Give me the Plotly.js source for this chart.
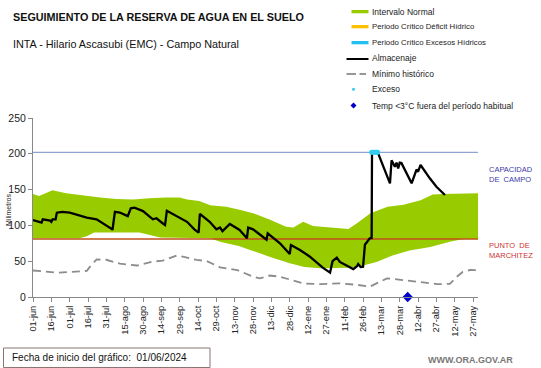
<!DOCTYPE html>
<html>
<head>
<meta charset="utf-8">
<script src="https://cdn.plot.ly/plotly-3.0.1.min.js"></script>
<style>html,body{margin:0;padding:0;background:#fff;}#chart{width:541px;height:368px;}</style>
</head>
<body>
<div id="chart"></div>
<script>
// ---- Data (x = days since 01/06/2024) ----
const ticksDias = [0,15,30,45,60,75,90,105,120,135,150,165,180,195,210,225,240,255,270,285,300,315,330,345,360];
const ticksTexto = ["01-jun","16-jun","01-jul","16-jul","31-jul","15-ago","30-ago","14-sep","29-sep","14-oct","29-oct","13-nov","28-nov","13-dic","28-dic","12-ene","27-ene","11-feb","26-feb","13-mar","28-mar","12-abr","27-abr","12-may","27-may"];

const diasSuperior = [0,5,16,27,55,68,82,95,109,120,126,136,145,158,169,180,194,207,213,221,229,248,258,265,276,290,303,317,327,335,364];
const intervaloSuperior = [144,141,149,145,139,137,136,138,139,139,136,134,128,126,122,117,108,98,97,105,99,96,95,103,117,126,129,135,143,144,145];

const diasInferior = [0,38,44,50,63,87,104,116,145,153,169,177,185,194,210,222,235,259,270,281,294,308,325,341,352,364];
const intervaloInferior = [82,82,85,90,90,90,83,82,82,77,71,66,61,56,47,42,40,41,44,49,58,65,70,77,81,81];

const diasAlmacenaje = [0,5.5,7,8,14,15,16,18.5,19.5,24,30,44,52,64.5,65,67,71,77.5,80,83,90,98,101,106,108,109.5,117.5,126,132,135.5,136.5,144.5,150,153,155,161,169,175,176,180,185,191,192,202,210,211,218,221,226,237,243,245,248.5,251,262,265,266,268,270,271.5,273,275.5,277,277.3,282,292,293.3,296,297.4,298.7,300,301.4,309.7,313.7,315,317,324.6,330,337];
const almacenaje = [107.5,105,104,108.5,106.6,105,108.5,108.5,117.8,119,117.8,111,108.5,95,93.6,119,118,113,123.8,124.7,120,108.5,110,103,100.5,120.5,113,105,94.5,90,116,105,94.5,97,92,102,93.6,82,97,94.5,88,80,89,75,60,72.6,66,63,57,41,34,50,55,49,39,43,46,42,42.3,73,76,82,82.5,202,202,158.8,191,182,187.6,179.7,187.6,187,158.8,178,175,184.4,165.8,154,142.5];

const diasMinimo = [0,19.5,30,44,46.5,52,60,71,85,98,106,117.5,122.5,134,142,153,167,180,185.5,193.5,202,210,221,235,251,265,275.5,281,289.5,302.5,316.5,330.5,341,346.5,351.5,357.5,364];
const minimoHistorico = [37,34,35,36.5,42,52.5,52,46.5,44,49.5,50.7,58,56.5,51.7,50.3,41.5,37.7,28.4,26,30,28.4,24,19,18,19,17,14.4,19,26,23.7,20.5,18,18.3,28,35,37.7,37.5];

const diasExceso = [277,278,279,280,281,282];
const exceso = [202,202,202,202,202,202];

const diasTempBaja = [306.5];
const tempBaja = [0];

const capacidadCampo = 202;
const puntoMarchitez = 81;
const diasRango = [0, 364];

// ---- helpers for pixel-like placement of decorations ----
const L = 33, R = 478, T = 118, B = 297;
const px = x => (x - L) / (R - L);
const py = y => (B - y) / (B - T);

const font = "Liberation Sans, Arial, sans-serif";

const traces = [
  { // Intervalo normal band
    x: diasSuperior.concat(diasInferior.slice().reverse()),
    y: intervaloSuperior.concat(intervaloInferior.slice().reverse()),
    type: "scatter", mode: "lines", fill: "toself", fillcolor: "#99cc00",
    line: {width: 0, color: "#99cc00"}, hoverinfo: "skip", name: "Intervalo Normal"
  },
  { x: diasRango, y: [capacidadCampo, capacidadCampo], type: "scatter", mode: "lines",
    line: {color: "#8fa3d0", width: 1.3}, name: "Capacidad de campo" },
  { x: diasRango, y: [puntoMarchitez, puntoMarchitez], type: "scatter", mode: "lines",
    line: {color: "#c0501a", width: 1.3}, name: "Punto de marchitez" },
  { x: diasMinimo, y: minimoHistorico, type: "scatter", mode: "lines",
    line: {color: "#8c8c8c", width: 1.8, dash: "8px,5px"}, name: "Mínimo histórico" },
  { x: diasAlmacenaje, y: almacenaje, type: "scatter", mode: "lines",
    line: {color: "#000000", width: 2.3}, name: "Almacenaje" },
  { x: diasExceso, y: exceso, type: "scatter", mode: "markers",
    marker: {color: "#33ccee", size: 5}, name: "Exceso", cliponaxis: false },
  { x: diasTempBaja, y: tempBaja, type: "scatter", mode: "markers",
    marker: {color: "#0000cc", size: 8, symbol: "diamond"}, name: "Temp <3°C", cliponaxis: false }
];

const legendRows = [
  {t: "Intervalo Normal", y: 11.7, s: 8.5},
  {t: "Periodo Crítico Déficit Hídrico", y: 26.7, s: 7.8},
  {t: "Periodo Crítico Excesos Hídricos", y: 42.7, s: 7.8},
  {t: "Almacenaje", y: 57.5, s: 8.5},
  {t: "Mínimo histórico", y: 73.5, s: 8.5},
  {t: "Exceso", y: 89.3, s: 8.5},
  {t: "Temp <3°C fuera del período habitual", y: 105.5, s: 8.5}
];

const annotations = [
  {text: "<b>SEGUIMIENTO DE LA RESERVA DE AGUA EN EL SUELO</b>", x: px(11), y: py(16.5),
   xref: "paper", yref: "paper", xanchor: "left", yanchor: "middle", showarrow: false,
   font: {family: font, size: 10.8, color: "#111"}},
  {text: "INTA - Hilario Ascasubi (EMC) - Campo Natural", x: px(11), y: py(44),
   xref: "paper", yref: "paper", xanchor: "left", yanchor: "middle", showarrow: false,
   font: {family: font, size: 10.8, color: "#111"}},
  {text: "Milimetros", x: px(8), y: py(210), xref: "paper", yref: "paper", textangle: -90,
   xanchor: "center", yanchor: "middle", showarrow: false, font: {family: font, size: 7, color: "#222"}},
  {text: "CAPACIDAD<br>DE  CAMPO", x: px(487), y: py(174.5), xref: "paper", yref: "paper",
   xanchor: "left", yanchor: "middle", align: "left", showarrow: false,
   font: {family: font, size: 7.5, color: "#3a3aa8"}},
  {text: "PUNTO  DE<br>MARCHITEZ", x: px(487), y: py(250.5), xref: "paper", yref: "paper",
   xanchor: "left", yanchor: "middle", align: "left", showarrow: false,
   font: {family: font, size: 7.5, color: "#cc3333"}},
  {text: "Fecha de inicio del gráfico:  01/06/2024", x: px(10), y: py(357.5), xref: "paper", yref: "paper",
   xanchor: "left", yanchor: "middle", showarrow: false, font: {family: font, size: 10, color: "#111"}},
  {text: "<b>WWW.ORA.GOV.AR</b>", x: px(515), y: py(360), xref: "paper", yref: "paper",
   xanchor: "right", yanchor: "middle", showarrow: false, font: {family: font, size: 9, color: "#777"}}
];
legendRows.forEach(r => annotations.push({
  text: r.t, x: px(370), y: py(r.y), xref: "paper", yref: "paper", xanchor: "left", yanchor: "middle",
  showarrow: false, font: {family: font, size: r.s, color: "#222"}
}));

const shapes = [
  // legend symbols
  {type: "rect", xref: "paper", yref: "paper", x0: px(351.5), x1: px(368.5), y0: py(13.3), y1: py(10), fillcolor: "#99cc00", line: {width: 0}},
  {type: "rect", xref: "paper", yref: "paper", x0: px(351.5), x1: px(368.5), y0: py(28.3), y1: py(25), fillcolor: "#ffc000", line: {width: 0}},
  {type: "rect", xref: "paper", yref: "paper", x0: px(351.5), x1: px(368.5), y0: py(44.3), y1: py(41), fillcolor: "#22c0f0", line: {width: 0}},
  {type: "line", xref: "paper", yref: "paper", x0: px(346.5), x1: px(368.5), y0: py(59), y1: py(59), line: {color: "#000", width: 2}},
  {type: "line", xref: "paper", yref: "paper", x0: px(346.5), x1: px(356), y0: py(74), y1: py(74), line: {color: "#8c8c8c", width: 1.8}},
  {type: "line", xref: "paper", yref: "paper", x0: px(359.5), x1: px(366), y0: py(74), y1: py(74), line: {color: "#8c8c8c", width: 1.8}},
  {type: "circle", xref: "paper", yref: "paper", x0: px(352), x1: px(355), y0: py(90.8), y1: py(87.8), fillcolor: "#33ccee", line: {width: 0}},
  {type: "path", xref: "paper", yref: "paper",
   path: `M ${px(353.5)},${py(102.5)} L ${px(356.5)},${py(105.5)} L ${px(353.5)},${py(108.5)} L ${px(350.5)},${py(105.5)} Z`,
   fillcolor: "#0000cc", line: {width: 0}},
  // bottom box
  {type: "rect", xref: "paper", yref: "paper", x0: px(3.5), x1: px(210), y0: py(348), y1: py(367.5),
   line: {color: "#8a7474", width: 1}, fillcolor: "rgba(0,0,0,0)"}
];

const layout = {
  width: 541, height: 368,
  margin: {l: L, r: 541 - R, t: T, b: 368 - B, pad: 0},
  paper_bgcolor: "#fff", plot_bgcolor: "#fff",
  showlegend: false,
  font: {family: font, color: "#222"},
  xaxis: {
    type: "linear", range: diasRango, tickmode: "array", tickvals: ticksDias, ticktext: ticksTexto,
    tickangle: -90, tickfont: {family: font, size: 9.3, color: "#222"},
    ticks: "outside", ticklen: 4, tickcolor: "#888", showline: true, linecolor: "#888", linewidth: 1,
    showgrid: false, zeroline: false, fixedrange: true
  },
  yaxis: {
    range: [0, 250], tickmode: "array", tickvals: [0, 50, 100, 150, 200, 250],
    tickfont: {family: font, size: 10.5, color: "#222"},
    ticks: "outside", ticklen: 4, tickcolor: "#888", showline: true, linecolor: "#888", linewidth: 1,
    showgrid: false, zeroline: false, fixedrange: true
  },
  annotations: annotations,
  shapes: shapes
};

Plotly.newPlot("chart", traces, layout, {displayModeBar: false, staticPlot: true});
</script>
</body>
</html>
